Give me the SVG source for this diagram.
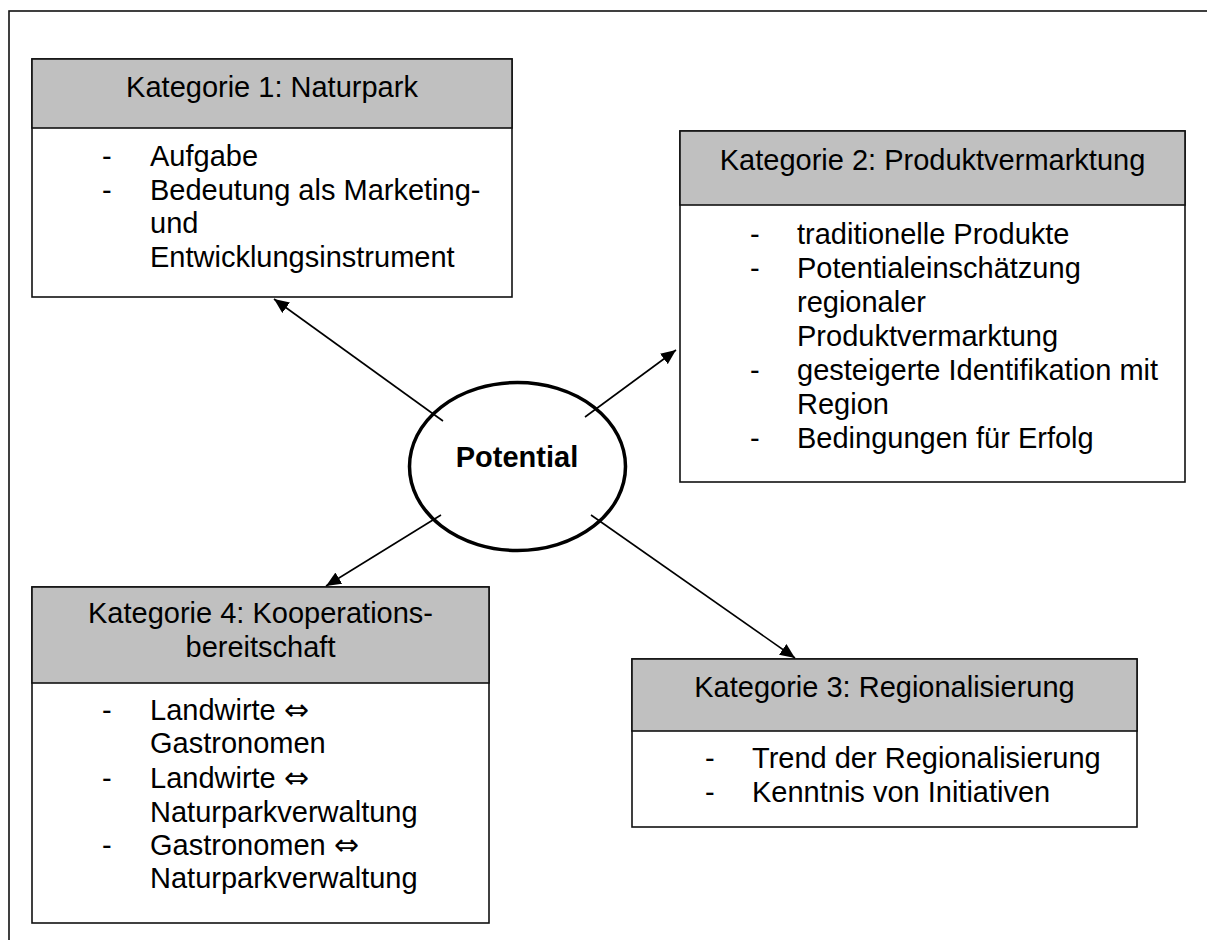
<svg xmlns="http://www.w3.org/2000/svg" width="1207" height="940" viewBox="0 0 1207 940">
  <defs>
    <marker id="ah" markerUnits="userSpaceOnUse" markerWidth="16" markerHeight="13" refX="15" refY="6.5" orient="auto">
      <path d="M0,0 L15,6.5 L0,13 z" fill="#000"/>
    </marker>
    <style>
      .box { fill: #fff; stroke: #111; stroke-width: 1.6; }
      .hdr { fill: #c0c0c0; stroke: #111; stroke-width: 1.6; }
      text { font-family: "Liberation Sans", Arial, sans-serif; font-size: 29px; fill: #000; }
      .c { text-anchor: middle; }
      .b { font-weight: bold; }
      .sym { font-family: "DejaVu Sans", sans-serif; font-size: 30px; }
      .conn line { stroke: #000; stroke-width: 1.6; marker-end: url(#ah); }
    </style>
  </defs>
  <rect width="1207" height="940" fill="#fff"/>
  <rect id="frame" x="9" y="11" width="1220" height="960" fill="none" stroke="#111" stroke-width="1.6"/>

  <g id="node-k1">
    <rect class="box" x="32" y="59" width="480" height="238"/>
    <rect class="hdr" x="32" y="59" width="480" height="69"/>
    <text class="c" x="272" y="97">Kategorie 1: Naturpark</text>
    <text x="102" y="166">-</text><text x="150" y="166">Aufgabe</text>
    <text x="102" y="200">-</text><text x="150" y="200">Bedeutung als Marketing-</text>
    <text x="150" y="233">und</text>
    <text x="150" y="267">Entwicklungsinstrument</text>
  </g>

  <g id="node-k2">
    <rect class="box" x="680" y="131" width="505" height="351"/>
    <rect class="hdr" x="680" y="131" width="505" height="74"/>
    <text class="c" x="932.5" y="170">Kategorie 2: Produktvermarktung</text>
    <text x="750" y="244">-</text><text x="797" y="244">traditionelle Produkte</text>
    <text x="750" y="278">-</text><text x="797" y="278">Potentialeinschätzung</text>
    <text x="797" y="312">regionaler</text>
    <text x="797" y="346">Produktvermarktung</text>
    <text x="750" y="380">-</text><text x="797" y="380">gesteigerte Identifikation mit</text>
    <text x="797" y="414">Region</text>
    <text x="750" y="448">-</text><text x="797" y="448">Bedingungen für Erfolg</text>
  </g>

  <g id="node-k3">
    <rect class="box" x="632" y="659" width="505" height="168"/>
    <rect class="hdr" x="632" y="659" width="505" height="72"/>
    <text class="c" x="884.5" y="697">Kategorie 3: Regionalisierung</text>
    <text x="705" y="768">-</text><text x="752" y="768">Trend der Regionalisierung</text>
    <text x="705" y="802">-</text><text x="752" y="802">Kenntnis von Initiativen</text>
  </g>

  <g id="node-k4">
    <rect class="box" x="32" y="587" width="457" height="336"/>
    <rect class="hdr" x="32" y="587" width="457" height="96"/>
    <text class="c" x="260.5" y="623">Kategorie 4: Kooperations-</text>
    <text class="c" x="260.5" y="657">bereitschaft</text>
    <text x="102" y="720">-</text><text x="150" y="720">Landwirte <tspan class="sym">⇔</tspan></text>
    <text x="150" y="753">Gastronomen</text>
    <text x="102" y="788">-</text><text x="150" y="788">Landwirte <tspan class="sym">⇔</tspan></text>
    <text x="150" y="822">Naturparkverwaltung</text>
    <text x="102" y="855">-</text><text x="150" y="855">Gastronomen <tspan class="sym">⇔</tspan></text>
    <text x="150" y="888">Naturparkverwaltung</text>
  </g>

  <g id="node-potential">
    <ellipse cx="517.5" cy="466.5" rx="108" ry="84" fill="#fff" stroke="#000" stroke-width="3.5"/>
    <text class="c b" x="517" y="467">Potential</text>
  </g>

  <g id="connectors" class="conn">
    <line x1="443" y1="421" x2="274" y2="299"/>
    <line x1="585" y1="417" x2="676" y2="350"/>
    <line x1="441" y1="515" x2="326" y2="586"/>
    <line x1="591" y1="515" x2="795" y2="658"/>
  </g>
</svg>
